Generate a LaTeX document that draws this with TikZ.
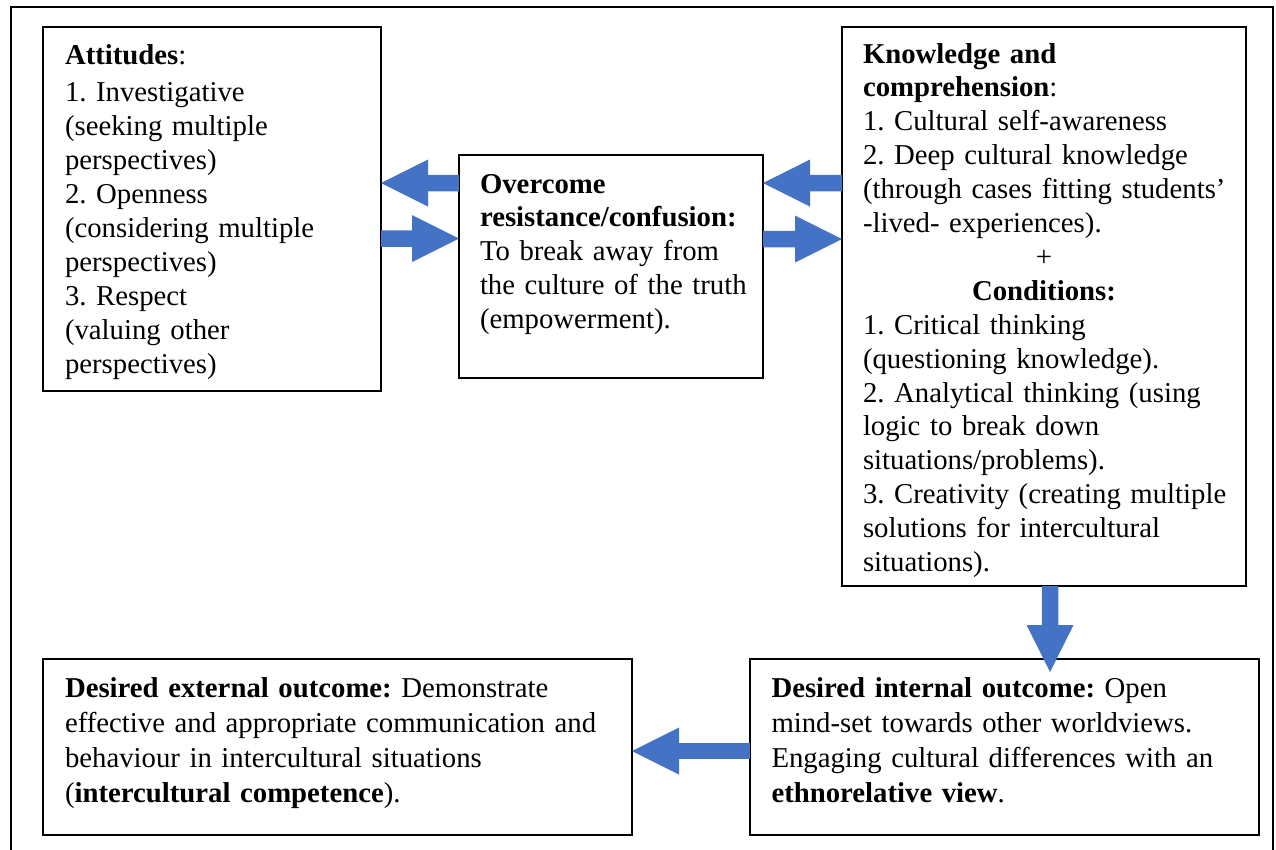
\documentclass[tikz,border=0pt]{standalone}
\usepackage{fontspec}
\setmainfont{Liberation Serif}
\usetikzlibrary{arrows.meta}
\definecolor{ArrowBlue}{HTML}{4472C4}
\frenchspacing
\tikzset{
    box/.style={draw, line width=0.6pt, anchor=north west, inner sep=0pt, outer sep=0pt, align=left, font=\fontsize{11.5pt}{13.56pt}\selectfont},
    bottombox/.style={box, font=\fontsize{11.5pt}{14pt}\selectfont},
    leftpad/.style={execute at begin node={\leftskip=#1}},
    blockarrow/.style={ArrowBlue, line width=6.6pt, -{Triangle[length=18.8pt, width=18.8pt, line width=0pt]}}
}
\newcommand{\midline}[1]{\hspace*{-\leftskip}\makebox[\linewidth]{#1}}

\begin{document}
\begin{tikzpicture}[x=0.4pt, y=-0.4pt]
            \useasboundingbox (0,0) rectangle (1276,849);
            \draw[line width=0.8pt] (11,7) rectangle (1273,880);
            \node[box, leftpad=8.8pt, text width=135.2pt, text height=14.8pt, text depth=130.8pt] (att) at (43,27)
                {\textbf{Attitudes}:\\[1.6pt]1. Investigative\\(seeking multiple\\perspectives)\\2. Openness\\(considering multiple\\perspectives)\\3. Respect\\(valuing other\\perspectives)};
            \node[box, leftpad=8.4pt, text width=121.6pt, text height=15.2pt, text depth=74pt] (over) at (459,155)
                {\textbf{Overcome}\\\textbf{resistance/confusion:}\\To break away from\\the culture of the truth\\(empowerment).};
            \node[box, leftpad=8.4pt, text width=161.6pt, text height=14.4pt, text depth=209.2pt] (know) at (842,27)
                {\textbf{Knowledge and}\\\textbf{comprehension}:\\1. Cultural self-awareness\\2. Deep cultural knowledge\\(through cases fitting students’\\-lived- experiences).\\\midline{+}\\\midline{\textbf{Conditions:}}\\1. Critical thinking\\(questioning knowledge).\\2. Analytical thinking (using\\logic to break down\\situations/problems).\\3. Creativity (creating multiple\\solutions for intercultural\\situations).};
            \node[bottombox, leftpad=8.8pt, text width=235.6pt, text height=15.2pt, text depth=55.2pt] (outer) at (43,659)
                {\textbf{Desired external outcome:} Demonstrate\\effective and appropriate communication and\\behaviour in intercultural situations\\(\textbf{intercultural competence}).};
            \node[bottombox, leftpad=8.6pt, text width=203.6pt, text height=15.2pt, text depth=55.2pt] (inner) at (750,659)
                {\textbf{Desired internal outcome:} Open\\mind-set towards other worldviews.\\Engaging cultural differences with an\\\textbf{ethnorelative view}.};
            % arrows between the boxes
            \draw[blockarrow] ([yshift=33.4pt]over.west) -- ([yshift=10.4pt]att.east);
            \draw[blockarrow] ([yshift=-11.8pt]att.east) -- ([yshift=11.2pt]over.west);
            \draw[blockarrow] ([yshift=49.4pt]know.west) -- ([yshift=33.4pt]over.east);
            \draw[blockarrow] ([yshift=11pt]over.east) -- ([yshift=27pt]know.west);
            \draw[blockarrow] ([xshift=2.4pt]know.south) -- ([xshift=18.2pt, yshift=-5.2pt]inner.north);
            \draw[blockarrow] ([yshift=-1.6pt]inner.west) -- ([yshift=-1.6pt]outer.east);
\end{tikzpicture}
\end{document}
